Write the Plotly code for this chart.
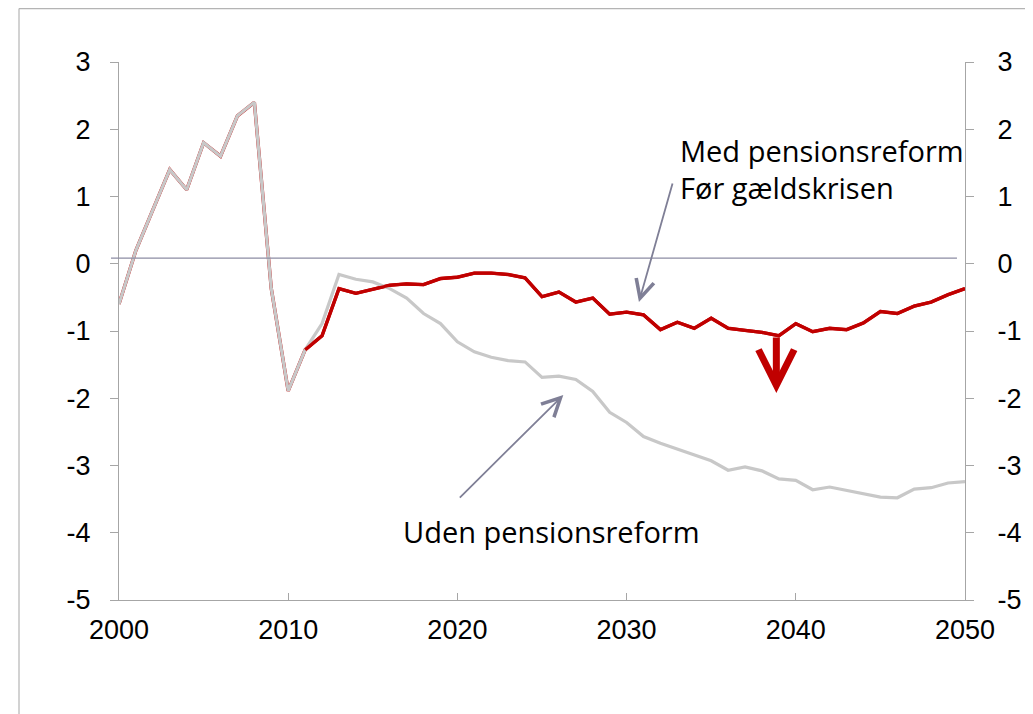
import plotly.graph_objects as go

years = list(range(2000, 2051))

common = [-0.6, 0.2, 0.8, 1.4, 1.1, 1.8, 1.6, 2.2, 2.4, -0.37, -1.89, -1.28]

uden_tail = [-0.89, -0.16, -0.23, -0.27, -0.37, -0.51, -0.74, -0.89, -1.16, -1.31,
             -1.39, -1.44, -1.46, -1.69, -1.67, -1.72, -1.90, -2.21, -2.36, -2.57,
             -2.67, -2.76, -2.85, -2.93, -3.07, -3.02, -3.08, -3.20, -3.22, -3.36,
             -3.32, -3.37, -3.41, -3.47, -3.48, -3.35, -3.33, -3.26, -3.24]

med_tail = [-1.07, -0.37, -0.44, -0.38, -0.32, -0.30, -0.31, -0.22, -0.20, -0.14,
            -0.14, -0.16, -0.21, -0.49, -0.42, -0.57, -0.51, -0.75, -0.72, -0.76,
            -0.98, -0.87, -0.96, -0.81, -0.96, -0.99, -1.02, -1.07, -0.89, -1.01,
            -0.96, -0.98, -0.88, -0.71, -0.74, -0.63, -0.57, -0.46, -0.37]

uden = common + uden_tail
med = common + med_tail

y_ticks = [3, 2, 1, 0, -1, -2, -3, -4, -5]
x_ticks = [2000, 2010, 2020, 2030, 2040, 2050]

label_med = "Med pensionsreform"
label_foer = "Før gældskrisen"
label_uden = "Uden pensionsreform"

RED = "#c00000"
GREY = "#c8c8c8"
ARROW = "#7f7f96"
AXIS = "#a6a6a6"
TICKFONT = dict(family="Liberation Sans Narrow, Liberation Sans, Arial", size=27, color="#000000")
ANNFONT = dict(family="Open Sans, DejaVu Sans, sans-serif", size=29, color="#000000")

fig = go.Figure()
fig.add_trace(go.Scatter(x=years, y=med, mode="lines", line=dict(color=RED, width=3.4),
                         showlegend=False, hoverinfo="skip"))
fig.add_trace(go.Scatter(x=years, y=uden, mode="lines", line=dict(color=GREY, width=3.2),
                         showlegend=False, hoverinfo="skip"))
fig.add_trace(go.Scatter(x=years[11:], y=med[11:], mode="lines", line=dict(color=RED, width=3.2),
                         showlegend=False, hoverinfo="skip"))
# invisible trace for right axis
fig.add_trace(go.Scatter(x=years, y=med, mode="lines", line=dict(width=0), opacity=0,
                         yaxis="y2", showlegend=False, hoverinfo="skip"))

# page body has an 8px margin, so margins are reduced accordingly
fig.update_layout(
    width=1033, height=714,
    margin=dict(l=111, r=76, t=54, b=122, autoexpand=False),
    paper_bgcolor="white", plot_bgcolor="white",
    showlegend=False,
    xaxis=dict(range=[2000, 2050], tickvals=x_ticks, ticktext=[str(v) for v in x_ticks],
               showgrid=False, zeroline=False, showline=True, linecolor=AXIS, linewidth=1,
               ticks="inside", ticklen=7, tickcolor=AXIS, tickfont=TICKFONT,
               ticklabelstandoff=6),
    yaxis=dict(range=[-5, 3], tickvals=y_ticks, ticktext=[str(v) for v in y_ticks],
               showgrid=False, zeroline=False, showline=True, linecolor=AXIS, linewidth=1,
               ticks="outside", ticklen=8, tickcolor=AXIS, tickfont=TICKFONT,
               ticklabelstandoff=14),
    yaxis2=dict(range=[-5, 3], tickvals=y_ticks, ticktext=[str(v) for v in y_ticks],
                overlaying="y", side="right",
                showgrid=False, zeroline=False, showline=True, linecolor=AXIS, linewidth=1,
                ticks="outside", ticklen=8, tickcolor=AXIS, tickfont=TICKFONT,
                ticklabelstandoff=18),
)

shapes = [
    # horizontal reference line
    dict(type="line", xref="paper", yref="y", x0=-0.0095, x1=0.9905, y0=0.085, y1=0.085,
         line=dict(color="#8c8ca3", width=1.2)),
    # frame
    dict(type="line", xref="paper", yref="paper", x0=-0.1182, x1=-0.1182, y0=1.0993, y1=-0.25,
         line=dict(color="#b4b4b4", width=1.2)),
    dict(type="line", xref="paper", yref="paper", x0=-0.1182, x1=1.1, y0=1.0993, y1=1.0993,
         line=dict(color="#b4b4b4", width=1.2)),
]
fig.update_layout(shapes=shapes)

annotations = [
    dict(xref="paper", yref="paper", x=0.661, y=0.835, xanchor="left", yanchor="middle",
         text=label_med, showarrow=False, font=ANNFONT),
    dict(xref="paper", yref="paper", x=0.661, y=0.766, xanchor="left", yanchor="middle",
         text=label_foer, showarrow=False, font=ANNFONT),
    dict(xref="paper", yref="paper", x=0.333, y=0.128, xanchor="left", yanchor="middle",
         text=label_uden, showarrow=False, font=ANNFONT),
    # grey arrows
    dict(xref="x", yref="y", x=2030.73, y=-0.569, ax=34, ay=-120, text="",
         showarrow=True, arrowhead=5, arrowwidth=1.8, arrowsize=2.0, arrowcolor=ARROW),
    dict(xref="x", yref="y", x=2026.26, y=-1.952, ax=-105, ay=104, text="",
         showarrow=True, arrowhead=5, arrowwidth=1.8, arrowsize=2.0, arrowcolor=ARROW),
    # red arrow
    dict(xref="x", yref="y", x=2038.85, y=-1.922, ax=0, ay=-57, text="",
         showarrow=True, arrowhead=5, arrowwidth=7, arrowsize=1.0, arrowcolor=RED),
]
fig.update_layout(annotations=annotations)

fig.write_html("out.html")
